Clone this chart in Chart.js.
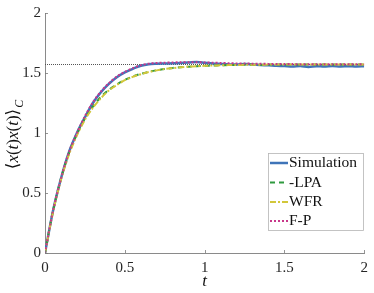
<!DOCTYPE html>
<html>
<head>
<meta charset="utf-8">
<script src="https://cdn.jsdelivr.net/npm/chart.js@4.4.1/dist/chart.umd.min.js"></script>
<style>
  html, body { margin: 0; padding: 0; background: #fff; }
  #wrap { width: 374px; height: 293px; }
</style>
</head>
<body>
<div id="wrap"><canvas id="chart" width="374" height="293"></canvas></div>
<script>
// times (t)
const tValues = [0, 0.05, 0.1, 0.15, 0.2, 0.25, 0.3, 0.35, 0.4, 0.45, 0.5, 0.55, 0.6, 0.65, 0.7, 0.75, 0.8, 0.85, 0.9, 0.95,
    1.0, 1.05, 1.1, 1.15, 1.2, 1.25, 1.3, 1.35, 1.4, 1.45, 1.5, 1.55, 1.6, 1.65, 1.7, 1.75, 1.8, 1.85, 1.9, 1.95, 2.0];

// series
const simValues = [0, 0.35, 0.62, 0.84, 1.0, 1.13, 1.25, 1.34, 1.41, 1.465, 1.505, 1.535, 1.56, 1.573, 1.577, 1.579, 1.581, 1.583, 1.587, 1.592,
    1.586, 1.58, 1.576, 1.572, 1.57, 1.574, 1.571, 1.567, 1.564, 1.56, 1.558, 1.554, 1.559, 1.551, 1.557, 1.554, 1.559, 1.555, 1.557, 1.554, 1.556];
const lpaValues = [0, 0.35, 0.62, 0.83, 0.99, 1.12, 1.22, 1.3, 1.36, 1.405, 1.442, 1.47, 1.493, 1.51, 1.523, 1.534, 1.542, 1.548, 1.553, 1.557,
    1.56, 1.562, 1.564, 1.566, 1.567, 1.568, 1.569, 1.569, 1.57, 1.57, 1.57, 1.57, 1.57, 1.57, 1.57, 1.57, 1.57, 1.57, 1.57, 1.57, 1.57];
const wfrValues = [0, 0.34, 0.61, 0.82, 0.98, 1.11, 1.21, 1.29, 1.355, 1.4, 1.44, 1.468, 1.49, 1.508, 1.522, 1.533, 1.541, 1.548, 1.553, 1.557,
    1.56, 1.562, 1.564, 1.566, 1.567, 1.568, 1.569, 1.569, 1.57, 1.57, 1.57, 1.57, 1.57, 1.57, 1.57, 1.57, 1.57, 1.57, 1.57, 1.57, 1.57];
const fpValues = [0, 0.35, 0.62, 0.84, 1.0, 1.14, 1.255, 1.345, 1.415, 1.47, 1.51, 1.54, 1.565, 1.578, 1.584, 1.586, 1.588, 1.589, 1.59, 1.59,
    1.588, 1.586, 1.584, 1.582, 1.58, 1.579, 1.578, 1.577, 1.576, 1.575, 1.574, 1.574, 1.573, 1.573, 1.573, 1.572, 1.572, 1.572, 1.572, 1.572, 1.572];

const plateau = 1.5708;
const xTicks = [0, 0.5, 1, 1.5, 2];
const yTicks = [0, 0.5, 1, 1.5, 2];

const seriesNames = ['Simulation', '-LPA', 'WFR', 'F-P'];
const seriesColors = ['#3f74b8', '#2f9a3f', '#d2c73a', '#c8378a'];

function toPoints(values) {
    return values.map(function(v, i) { return { x: tValues[i], y: v }; });
}

const serifFont = "'Liberation Serif', 'DejaVu Serif', serif";

// inward tick marks, matlab style
const innerTicks = {
    id: 'innerTicks',
    afterDraw: function(chart) {
        const ctx = chart.ctx;
        const a = chart.chartArea;
        const xs = chart.scales.x, ys = chart.scales.y;
        ctx.save();
        ctx.strokeStyle = '#7a7a7a';
        ctx.lineWidth = 0.8;
        ctx.beginPath();
        xTicks.forEach(function(t) {
            const px = Math.round(xs.getPixelForValue(t)) + 0.5;
            ctx.moveTo(px, a.bottom);
            ctx.lineTo(px, a.bottom - 3);
        });
        yTicks.forEach(function(t) {
            const py = Math.round(ys.getPixelForValue(t)) + 0.5;
            ctx.moveTo(a.left, py);
            ctx.lineTo(a.left + 3, py);
        });
        ctx.stroke();
        ctx.restore();
    }
};

// axis titles + legend box
const labelsAndLegend = {
    id: 'labelsAndLegend',
    afterDraw: function(chart) {
        const ctx = chart.ctx;
        const a = chart.chartArea;
        ctx.save();
        ctx.fillStyle = '#111';

        // x title
        ctx.font = 'italic 17px ' + serifFont;
        ctx.textAlign = 'center';
        ctx.textBaseline = 'middle';
        ctx.fillText('t', (a.left + a.right) / 2, 282);

        // y title, rotated
        ctx.save();
        ctx.translate(14, (a.top + a.bottom) / 2 + 2);
        ctx.rotate(-Math.PI / 2);
        ctx.textBaseline = 'middle';
        ctx.textAlign = 'left';
        const fs = 17;
        const parts = [
            { t: '\u27E8', f: fs + 'px ' + serifFont },
            { t: 'x', f: 'italic ' + fs + 'px ' + serifFont },
            { t: '(', f: fs + 'px ' + serifFont },
            { t: 't', f: 'italic ' + fs + 'px ' + serifFont },
            { t: ')', f: fs + 'px ' + serifFont },
            { t: 'x', f: 'italic ' + fs + 'px ' + serifFont },
            { t: '(', f: fs + 'px ' + serifFont },
            { t: 't', f: 'italic ' + fs + 'px ' + serifFont },
            { t: ')', f: fs + 'px ' + serifFont },
            { t: '\u27E9', f: fs + 'px ' + serifFont }
        ];
        let total = 0;
        parts.forEach(function(p) { ctx.font = p.f; p.w = ctx.measureText(p.t).width; total += p.w; });
        ctx.font = 'italic 12px ' + serifFont;
        const subW = ctx.measureText('C').width;
        let x = -(total + subW) / 2;
        parts.forEach(function(p) { ctx.font = p.f; ctx.fillText(p.t, x, 0); x += p.w; });
        ctx.font = 'italic 12px ' + serifFont;
        ctx.fillText('C', x + 1, 6);
        ctx.restore();

        // legend
        const bx = 268, by = 153, bw = 95, bh = 77;
        ctx.fillStyle = '#fff';
        ctx.fillRect(bx, by, bw, bh);
        ctx.strokeStyle = '#b5b5b5';
        ctx.lineWidth = 0.8;
        ctx.strokeRect(bx + 0.5, by + 0.5, bw, bh);
        const rows = [163, 182.5, 202, 221];
        chart.data.datasets.forEach(function(ds, i) {
            if (i >= seriesNames.length) return;
            const yy = rows[i];
            ctx.strokeStyle = ds.borderColor;
            ctx.lineWidth = ds.borderWidth;
            ctx.setLineDash(ds.borderDash || []);
            ctx.beginPath();
            ctx.moveTo(270, yy);
            ctx.lineTo(288, yy);
            ctx.stroke();
            ctx.setLineDash([]);
            ctx.fillStyle = '#111';
            ctx.font = '15.5px ' + serifFont;
            ctx.textAlign = 'left';
            ctx.textBaseline = 'middle';
            ctx.fillText(seriesNames[i], 289, yy);
        });
        ctx.restore();
    }
};

new Chart(document.getElementById('chart'), {
    type: 'line',
    data: {
        datasets: [
            {
                label: seriesNames[0], data: toPoints(simValues), order: 4,
                borderColor: seriesColors[0], borderWidth: 2.5, pointRadius: 0, tension: 0.3
            },
            {
                label: seriesNames[1], data: toPoints(lpaValues), order: 3,
                borderColor: seriesColors[1], borderWidth: 2, borderDash: [5, 4], pointRadius: 0, tension: 0.3
            },
            {
                label: seriesNames[2], data: toPoints(wfrValues), order: 2,
                borderColor: seriesColors[2], borderWidth: 2, borderDash: [6, 2, 2, 2], pointRadius: 0, tension: 0.3
            },
            {
                label: seriesNames[3], data: toPoints(fpValues), order: 1,
                borderColor: seriesColors[3], borderWidth: 2, borderDash: [2, 2], pointRadius: 0, tension: 0.3
            },
            {
                label: 'plateau', data: [{ x: 0, y: plateau }, { x: 2, y: plateau }], order: 5,
                borderColor: '#555', borderWidth: 1, borderDash: [1, 1], pointRadius: 0
            }
        ]
    },
    options: {
        responsive: false,
        animation: false,
        layout: { padding: { left: 0, right: 6, top: 7, bottom: 0 } },
        plugins: { legend: { display: false }, tooltip: { enabled: false } },
        scales: {
            x: {
                type: 'linear', min: 0, max: 2,
                afterFit: function(s) { s.height = 40; },
                afterBuildTicks: function(s) { s.ticks = xTicks.map(function(v) { return { value: v }; }); },
                grid: { display: false, drawTicks: false },
                border: { display: true, color: '#8a8a8a', width: 1 },
                ticks: {
                    padding: 6, color: '#262626', maxRotation: 0,
                    font: { family: serifFont, size: 15 },
                    callback: function(v) { return String(v); }
                }
            },
            y: {
                type: 'linear', min: 0, max: 2,
                afterFit: function(s) { s.width = 45; },
                afterBuildTicks: function(s) { s.ticks = yTicks.map(function(v) { return { value: v }; }); },
                grid: { display: false, drawTicks: false },
                border: { display: true, color: '#8a8a8a', width: 1 },
                ticks: {
                    padding: 4, color: '#262626',
                    font: { family: serifFont, size: 15 },
                    callback: function(v) { return String(v); }
                }
            }
        }
    },
    plugins: [innerTicks, labelsAndLegend]
});
</script>
</body>
</html>
